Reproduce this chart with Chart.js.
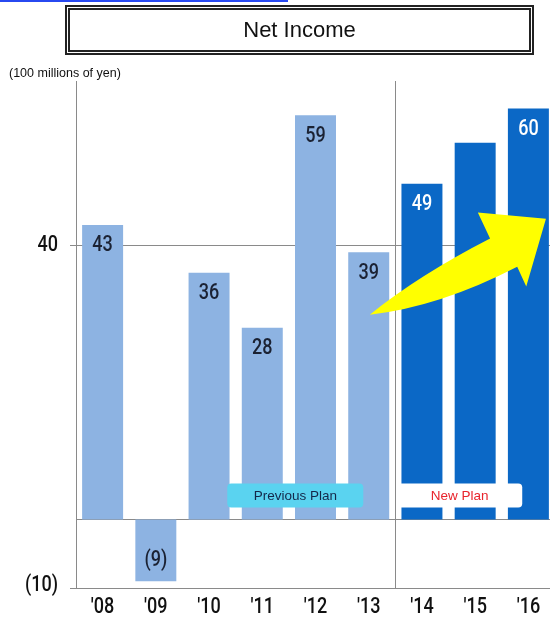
<!DOCTYPE html>
<html>
<head>
<meta charset="utf-8">
<script src="https://cdn.jsdelivr.net/npm/chart.js@4.4.0/dist/chart.umd.min.js"></script>
<style>
  html, body { margin: 0; padding: 0; background: #fff; overflow: hidden; }
  #wrap { position: relative; width: 560px; height: 624px; }
  #link { position: absolute; left: 0; top: 0; width: 288px; height: 2px; background: #2748f0; }
  #title {
    position: absolute; left: 65px; top: 5px; width: 459px; height: 40px;
    border: 5px double #222; box-sizing: content-box;
    font: 22px "Liberation Sans", Arial, sans-serif; color: #111;
    text-align: center; line-height: 40px;
  }
  #unit { position: absolute; left: 9px; top: 66px; font: 12.5px "Liberation Sans", Arial, sans-serif; color: #111; }
  canvas { position: absolute; left: 0; top: 0; }
</style>
</head>
<body>
<div id="wrap">
  <canvas id="income" width="560" height="624"></canvas>
  <div id="link"></div>
  <div id="title">Net Income</div>
  <div id="unit">(100 millions of yen)</div>
</div>
<script>
// fiscal years, net income (100 millions of yen)
const years = ["'08", "'09", "'10", "'11", "'12", "'13", "'14", "'15", "'16"];
const netIncome = [43, -9, 36, 28, 59, 39, 49, 55, 60];
const isNewPlan = [false, false, false, false, false, false, true, true, true];
const showValue = [true, true, true, true, true, true, true, false, true];
const yTicks = [-10, 40];

const prevColor = '#8db3e2';
const newColor = '#0b68c6';
const numFont = '500 22px Roboto, "Liberation Sans", sans-serif';

const fmt = v => v < 0 ? '(' + Math.abs(v) + ')' : String(v);

// condensed numerals: regular face squeezed horizontally
function narrowText(ctx, text, x, y, align, color) {
  ctx.save();
  ctx.translate(x, y);
  ctx.scale(0.82, 1);
  ctx.font = numFont;
  ctx.textAlign = align;
  ctx.textBaseline = 'middle';
  ctx.fillStyle = color;
  ctx.fillText(text, 0, 0);
  ctx.restore();
}

// value labels inside the bar ends
const valueLabels = {
  id: 'valueLabels',
  afterDatasetsDraw(chart) {
    const { ctx } = chart;
    chart.getDatasetMeta(0).data.forEach((bar, i) => {
      if (!showValue[i]) return;
      const v = netIncome[i];
      const y = v >= 0 ? bar.y + 21 : bar.y - 21;
      narrowText(ctx, fmt(v), bar.x, y, 'center', isNewPlan[i] ? '#ffffff' : '#1b2233');
    });
  }
};

// axis labels in the same condensed numerals
const axisLabels = {
  id: 'axisLabels',
  afterDraw(chart) {
    const { ctx, chartArea } = chart;
    const xs = chart.scales.x, ys = chart.scales.y;
    years.forEach((yr, i) => {
      narrowText(ctx, yr, xs.getPixelForValue(i), chartArea.bottom + 19, 'center', '#111');
    });
    yTicks.forEach(v => {
      const yy = ys.getPixelForValue(v) - (v === yTicks[0] ? 3 : 0);
      narrowText(ctx, fmt(v), chartArea.left - 18, yy, 'right', '#111');
    });
  }
};

// plan captions and growth arrow, placed in data coordinates
const arrowPts = {
  tail: [5.02, 29.9],
  neckLo: [7.79, 36.9],
  barbLo: [7.96, 34.0],
  tip: [8.33, 43.9],
  barbHi: [7.05, 44.8],
  neckHi: [7.28, 41.0]
};

const planNotes = {
  id: 'planNotes',
  afterDatasetsDraw(chart) {
    const { ctx } = chart;
    const xs = chart.scales.x, ys = chart.scales.y;
    const P = p => [xs.getPixelForValue(p[0]), ys.getPixelForValue(p[1])];

    const box = (cx, w, fill, text, color) => {
      const x = xs.getPixelForValue(cx) - w / 2;
      const y = ys.getPixelForValue(3.5) - 12;
      ctx.fillStyle = fill;
      ctx.beginPath();
      ctx.roundRect(x, y, w, 24, 4);
      ctx.fill();
      ctx.fillStyle = color;
      ctx.font = '13.5px "Liberation Sans", Arial, sans-serif';
      ctx.textAlign = 'center';
      ctx.textBaseline = 'middle';
      ctx.fillText(text, x + w / 2, y + 12.5);
    };
    ctx.save();
    box(3.62, 136, '#5ad3f0', 'Previous Plan', '#14284a');
    box(6.71, 125, '#ffffff', 'New Plan', '#e8242c');

    const t = P(arrowPts.tail), nl = P(arrowPts.neckLo), bl = P(arrowPts.barbLo);
    const tp = P(arrowPts.tip), bh = P(arrowPts.barbHi), nh = P(arrowPts.neckHi);
    ctx.fillStyle = '#ffff00';
    ctx.beginPath();
    ctx.moveTo(t[0], t[1]);
    ctx.quadraticCurveTo(t[0] + 70, t[1] - 8, nl[0], nl[1]);
    ctx.lineTo(bl[0], bl[1]);
    ctx.lineTo(tp[0], tp[1]);
    ctx.lineTo(bh[0], bh[1]);
    ctx.lineTo(nh[0], nh[1]);
    ctx.quadraticCurveTo(t[0] + 50, t[1] - 40, t[0], t[1]);
    ctx.closePath();
    ctx.fill();
    ctx.restore();
  }
};

// zero line across the plot
const zeroLine = {
  id: 'zeroLine',
  beforeDatasetsDraw(chart) {
    const { ctx, chartArea } = chart;
    const y = chart.scales.y.getPixelForValue(0);
    ctx.save();
    ctx.strokeStyle = '#8a8a8a';
    ctx.lineWidth = 1;
    ctx.beginPath();
    ctx.moveTo(chartArea.left, Math.round(y) + 0.5);
    ctx.lineTo(chartArea.right, Math.round(y) + 0.5);
    ctx.stroke();
    ctx.restore();
  }
};

new Chart(document.getElementById('income'), {
  type: 'bar',
  data: {
    labels: years,
    datasets: [{
      data: netIncome,
      backgroundColor: isNewPlan.map(n => n ? newColor : prevColor),
      borderWidth: 0,
      barPercentage: 0.77,
      categoryPercentage: 1
    }]
  },
  options: {
    responsive: false,
    animation: false,
    layout: { padding: { top: 81, right: 5, left: 0, bottom: 0 } },
    plugins: { legend: { display: false }, tooltip: { enabled: false }, title: { display: false } },
    scales: {
      x: {
        offset: true,
        grid: {
          offset: true,
          drawTicks: false,
          color: ctx => ctx.index === 6 ? '#8a8a8a' : 'rgba(0,0,0,0)',
          lineWidth: 1
        },
        border: { display: true, color: '#8a8a8a' },
        ticks: { color: 'rgba(0,0,0,0)', font: { size: 22 } },
        afterFit(scale) { scale.height = 36; }
      },
      y: {
        min: -10,
        max: 64,
        afterBuildTicks(scale) { scale.ticks = yTicks.map(v => ({ value: v })); },
        grid: { color: '#8a8a8a', tickLength: 6, lineWidth: 1 },
        border: { display: true, color: '#8a8a8a' },
        ticks: { color: 'rgba(0,0,0,0)', callback: v => fmt(v) },
        afterFit(scale) { scale.width = 76; }
      }
    }
  },
  plugins: [zeroLine, planNotes, valueLabels, axisLabels]
});
</script>
</body>
</html>
